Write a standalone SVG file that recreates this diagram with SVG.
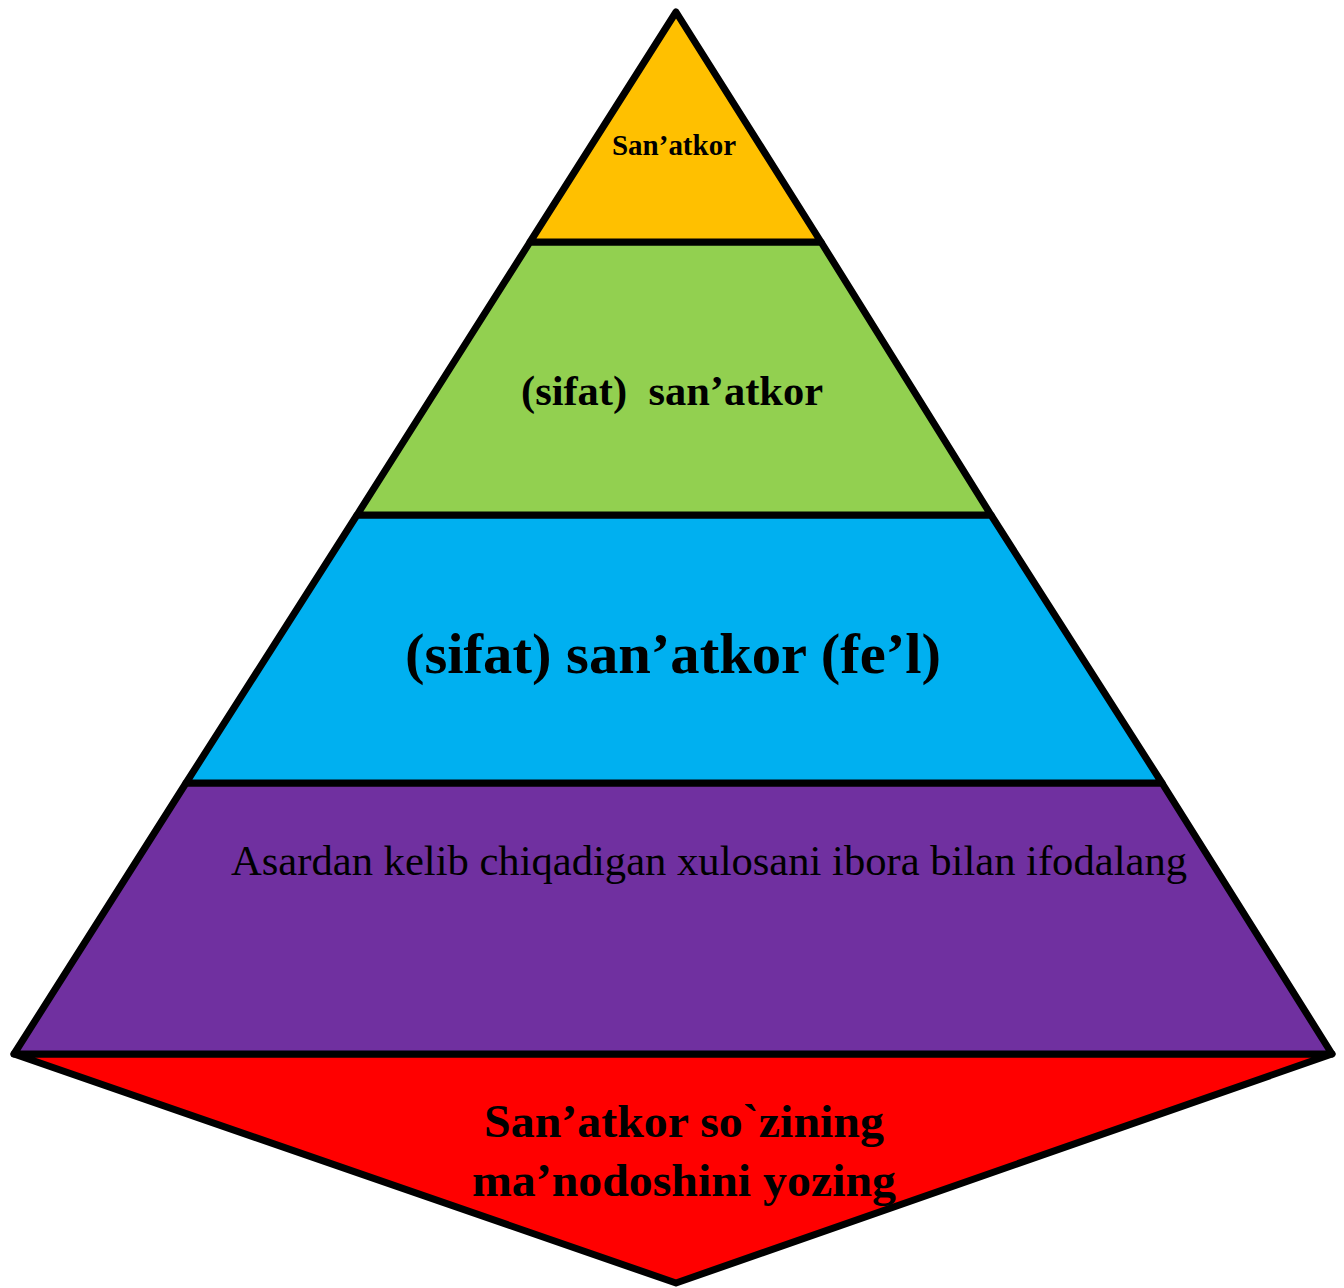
<svg xmlns="http://www.w3.org/2000/svg" width="1344" height="1288" viewBox="0 0 1344 1288">
<style>
.band{stroke:#000;stroke-width:7;stroke-linejoin:round}
.t{font-family:"Liberation Serif","Times New Roman",serif;text-anchor:middle;fill:#000}
.b{font-weight:bold}
</style>
<rect width="1344" height="1288" fill="#fff"/>
<g id="red">
<polygon class="band" points="14,1054 1332,1054 676,1283" fill="#FF0000"/>
<text class="t b" x="684" y="1137" font-size="47" textLength="400" lengthAdjust="spacingAndGlyphs">San’atkor so`zining</text>
<text class="t b" x="684" y="1196" font-size="47" textLength="424" lengthAdjust="spacingAndGlyphs">ma’nodoshini yozing</text>
</g>
<g id="purple">
<polygon class="band" points="186,783 1162,783 1332,1054 14,1054" fill="#7030A0"/>
<text class="t" x="709" y="875" font-size="42" textLength="956" lengthAdjust="spacingAndGlyphs">Asardan kelib chiqadigan xulosani ibora bilan ifodalang</text>
</g>
<g id="blue">
<polygon class="band" points="357,515 991,515 1162,783 186,783" fill="#00B0F0"/>
<text class="t b" x="673" y="673" font-size="58" textLength="536" lengthAdjust="spacingAndGlyphs">(sifat) san’atkor (fe’l)</text>
</g>
<g id="green">
<polygon class="band" points="530,242 821,242 991,515 357,515" fill="#92D050"/>
<text class="t b" x="672" y="405" font-size="42" textLength="302" lengthAdjust="spacingAndGlyphs" xml:space="preserve">(sifat)  san’atkor</text>
</g>
<g id="yellow">
<polygon class="band" points="676,12 821,242 530,242" fill="#FFC000"/>
<text class="t b" x="674" y="155" font-size="29" textLength="124" lengthAdjust="spacingAndGlyphs">San’atkor</text>
</g>
<g id="connectors"></g>
</svg>
